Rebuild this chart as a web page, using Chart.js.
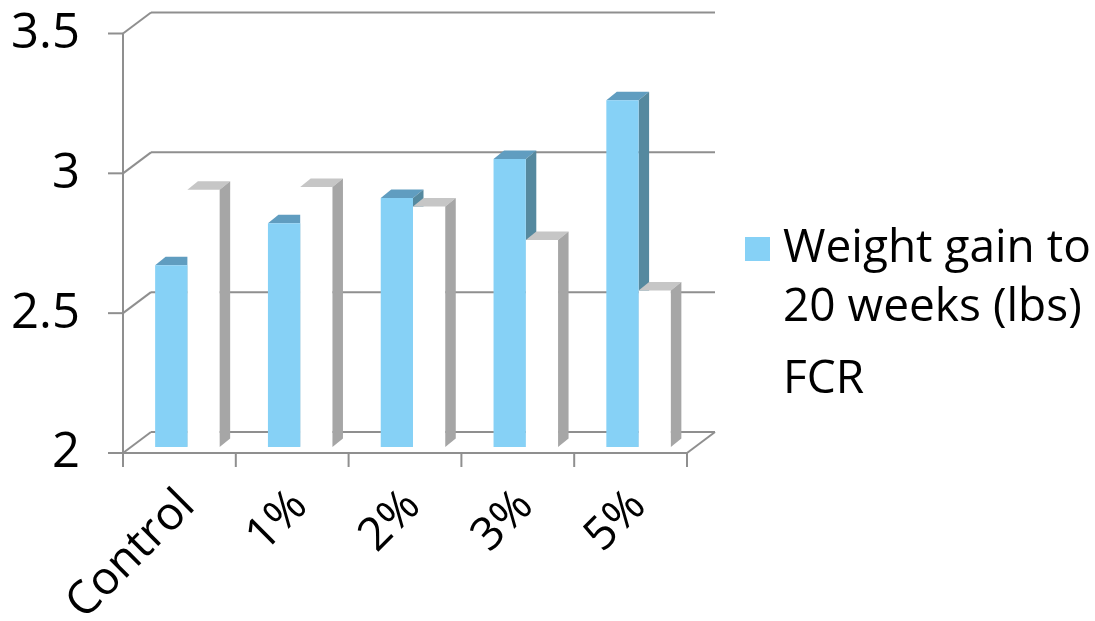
<!DOCTYPE html>
<html>
<head>
<meta charset="utf-8">
<title>Weight gain and FCR</title>
<script src="https://cdn.jsdelivr.net/npm/chart.js@4.4.1/dist/chart.umd.min.js"></script>
<style>
  html, body { margin: 0; padding: 0; background: #fff; }
</style>
</head>
<body>
<canvas id="chart" width="1095" height="621"></canvas>
<script>
// Data
const categories   = ['Control', '1%', '2%', '3%', '5%'];
const weightGain   = [2.65, 2.80, 2.89, 3.03, 3.24];
const fcr          = [2.92, 2.93, 2.86, 2.74, 2.56];
const seriesLabels = [['Weight gain to', '20 weeks (lbs)'], 'FCR'];
const yTicks       = [2, 2.5, 3, 3.5];

//  Look
const FONT   = "'Open Sans', sans-serif";
const LINE   = '#8f8f8f';
const FRONT  = { dx: -8,   dy: 6 };     // front plane relative to bar faces
const BACK   = { dx: 20,   dy: -15 };   // back wall relative to bar faces
const DEPTH  = { dx: 10.5, dy: -8.5 };  // bar thickness
const AREA   = { left: 131, right: 695, top: 27.5, bottom: 447 };
const LEGEND_TOP = 8.5;                 // legend box starts above the plot
const FACES  = [
  { front: '#86d1f6', top: '#609dc0', side: '#55899f' },
  { front: '#ffffff', top: '#c6c6c6', side: '#a6a6a6' },
];

//  Legend swatch, drawn to the right of its slot so it sits close to the text
function legendSwatch(color) {
  const c = document.createElement('canvas');
  c.width = 71; c.height = 24;
  const g = c.getContext('2d');
  g.fillStyle = color;
  g.fillRect(46, 0, 25, 24);
  return c;
}

function drawFaces(chart, dsIndex) {
  const ctx  = chart.ctx;
  const look = FACES[dsIndex];
  const poly = pts => {
    ctx.beginPath();
    ctx.moveTo(pts[0][0], pts[0][1]);
    pts.slice(1).forEach(p => ctx.lineTo(p[0], p[1]));
    ctx.closePath();
    ctx.fill();
  };
  ctx.save();
  chart.getDatasetMeta(dsIndex).data.forEach(bar => {
    const { x, y, base, width } = bar.getProps(['x', 'y', 'base', 'width'], true);
    const l = x - width / 2, r = x + width / 2;
    ctx.fillStyle = look.top;
    poly([[l, y], [l + DEPTH.dx, y + DEPTH.dy], [r + DEPTH.dx, y + DEPTH.dy], [r, y]]);
    ctx.fillStyle = look.side;
    poly([[r, y], [r + DEPTH.dx, y + DEPTH.dy], [r + DEPTH.dx, base + DEPTH.dy], [r, base]]);
  });
  ctx.restore();
}

//  3D walls, floor and bar faces
const box3d = {
  id: 'box3d',
  afterInit(chart) {
    const lg  = chart.legend;
    const fit = lg.fit;
    lg.fit = function () {
      fit.call(this);
      this.width = chart.width - AREA.right;
    };
  },
  beforeDatasetsDraw(chart) {
    const { ctx, chartArea: ca, scales: { x, y } } = chart;
    const yb = y.getPixelForValue(y.min);
    const seg = (x1, y1, x2, y2) => {
      ctx.beginPath(); ctx.moveTo(x1, y1); ctx.lineTo(x2, y2); ctx.stroke();
    };
    ctx.save();
    ctx.strokeStyle = LINE;
    ctx.lineWidth   = 2;
    y.ticks.forEach(t => {
      const yy = y.getPixelForValue(t.value);
      seg(ca.left + BACK.dx, yy + BACK.dy, ca.right + BACK.dx, yy + BACK.dy);
      seg(ca.left + FRONT.dx, yy + FRONT.dy, ca.left + BACK.dx, yy + BACK.dy);
      seg(ca.left + FRONT.dx - 15, yy + FRONT.dy, ca.left + FRONT.dx, yy + FRONT.dy);
    });
    seg(ca.left + FRONT.dx, y.getPixelForValue(y.max) + FRONT.dy, ca.left + FRONT.dx, yb + FRONT.dy);
    seg(ca.left + FRONT.dx, yb + FRONT.dy, ca.right + FRONT.dx, yb + FRONT.dy);
    seg(ca.right + FRONT.dx, yb + FRONT.dy, ca.right + BACK.dx, yb + BACK.dy);
    for (let i = 0; i <= categories.length; i++) {
      const xx = x.getPixelForValue(i - 0.5) + FRONT.dx;
      seg(xx, yb + FRONT.dy, xx, yb + FRONT.dy + 14);
    }
    ctx.restore();
    // blue faces first: the white fronts must hide their lower part
    drawFaces(chart, 0);
  },
  afterDatasetsDraw(chart) {
    drawFaces(chart, 1);
  }
};

new Chart(document.getElementById('chart'), {
  type: 'bar',
  data: {
    labels: categories,
    datasets: [
      {
        label: seriesLabels[0],
        data: weightGain,
        backgroundColor: FACES[0].front,
        pointStyle: legendSwatch(FACES[0].front),
        base: yTicks[0],
        borderWidth: 0,
      },
      {
        label: seriesLabels[1],
        data: fcr,
        backgroundColor: FACES[1].front,
        pointStyle: legendSwatch(FACES[1].front),
        base: yTicks[0],
        borderWidth: 0,
      }
    ]
  },
  options: {
    responsive: false,
    animation: false,
    devicePixelRatio: 1,
    categoryPercentage: 0.572,
    barPercentage: 1,
    layout: { padding: { top: LEGEND_TOP, left: 0, right: 0, bottom: 0 } },
    scales: {
      x: {
        grid:   { display: false, drawTicks: false },
        border: { display: false },
        ticks: {
          color: '#000',
          font: { family: FONT, size: 46 },
          minRotation: 45,
          maxRotation: 45,
          autoSkip: false,
          padding: 32,
        },
        afterFit: s => { s.height = 621 - AREA.bottom; },
      },
      y: {
        min: yTicks[0],
        max: yTicks[yTicks.length - 1],
        grid:   { display: false, drawTicks: false },
        border: { display: false },
        ticks: {
          stepSize: 0.5,
          color: '#000',
          font: { family: FONT, size: 49, lineHeight: 1 },
          padding: 51,
          labelOffset: 6.5,
          callback: v => String(v),
        },
        afterFit: s => {
          s.width = AREA.left;
          s.paddingTop = AREA.top;   // plot top sits lower than the legend box
          s.paddingBottom = 0;
        },
      }
    },
    plugins: {
      legend: {
        position: 'right',
        align: 'center',
        labels: {
          color: '#000',
          font: { family: FONT, size: 46, lineHeight: 1.27 },
          usePointStyle: true,
          pointStyleWidth: 51,
          padding: 14,
        }
      },
      tooltip: { enabled: false }
    }
  },
  plugins: [box3d]
});
</script>
</body>
</html>
